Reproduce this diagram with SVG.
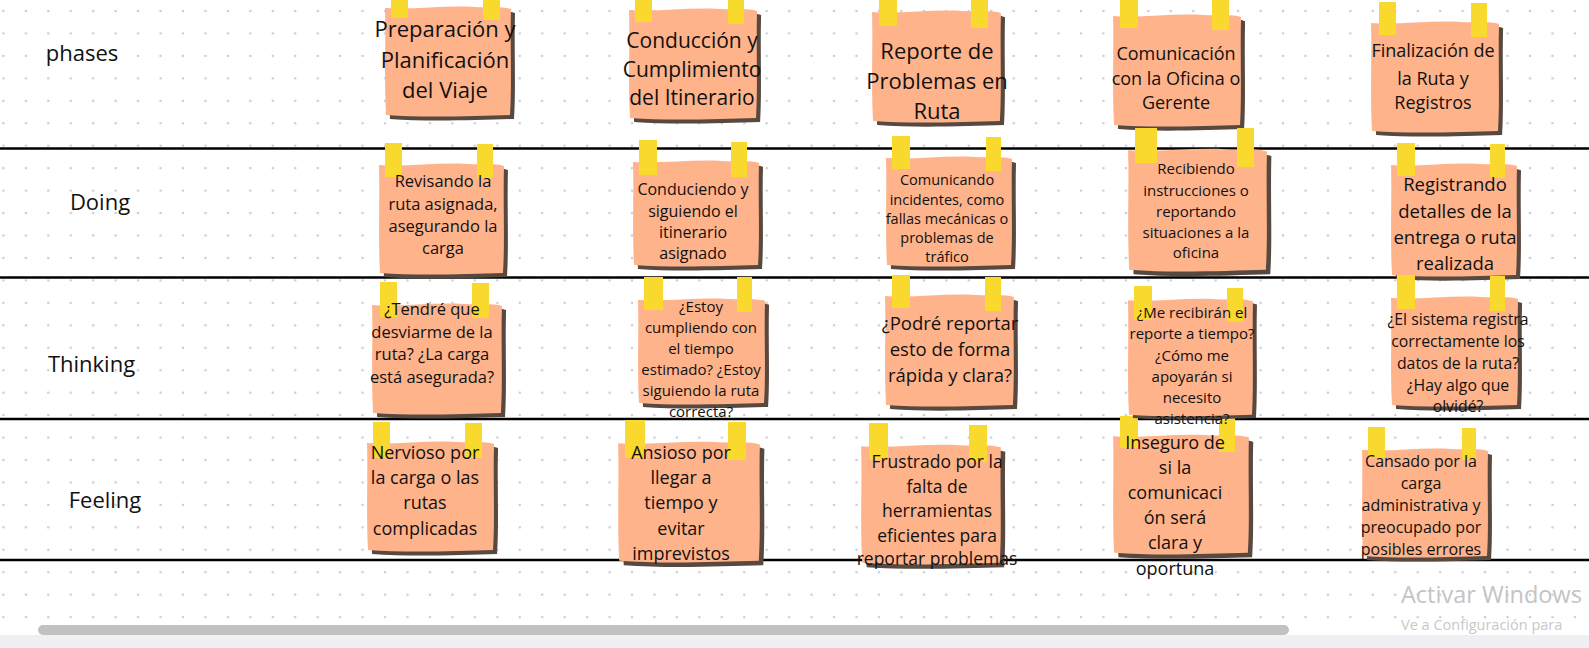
<svg xmlns="http://www.w3.org/2000/svg" width="1589" height="648" viewBox="0 0 1589 648">
<defs>
<pattern id="dots" x="3.4" y="11" width="22.45" height="22.45" patternUnits="userSpaceOnUse">
<circle cx="0" cy="0" r="1.3" fill="#c9ccd5"/>
<circle cx="22.45" cy="0" r="1.3" fill="#c9ccd5"/>
<circle cx="0" cy="22.45" r="1.3" fill="#c9ccd5"/>
<circle cx="22.45" cy="22.45" r="1.3" fill="#c9ccd5"/>
</pattern>
<path id="note" d="M1,3 C30,5 60,0 90,2 C105,3 118,1 127,4 C126,40 128,80 126,110 C90,111 40,113 2,110 C0,75 2,35 1,3 Z"/>
<style>
.paper{fill:#ffb38b}
.shadow{fill:#574840}
.tape{fill:#f9d92e}
.lane{stroke:#000;stroke-width:2.6}
text{font-family:"Open Sans","Noto Sans","DejaVu Sans",sans-serif;fill:#111;text-anchor:middle}
.lbl{font-size:22px}
</style>
</defs>
<rect x="0" y="0" width="1589" height="648" fill="#ffffff"/>
<rect x="0" y="0" width="1589" height="635" fill="url(#dots)"/>

<g id="lanes">
<line class="lane" x1="0" y1="148.5" x2="1589" y2="148.5"/>
<line class="lane" x1="0" y1="277.5" x2="1589" y2="277.5"/>
<line class="lane" x1="0" y1="419" x2="1589" y2="419"/>
<line class="lane" x1="0" y1="560" x2="1589" y2="560"/>
</g>

<g id="labels">
<text class="lbl" x="82" y="61">phases</text>
<text class="lbl" x="100" y="210">Doing</text>
<text class="lbl" x="91.5" y="372">Thinking</text>
<text class="lbl" x="105" y="508">Feeling</text>
</g>

<g id="connectors"></g>

<!-- Row: phases -->
<g id="n1">
<g transform="translate(384,5) scale(1,1)"><use href="#note" class="shadow" transform="translate(4,4)"/><use href="#note" class="paper"/></g>
<rect class="tape" x="391" y="-15" width="17" height="33"/><rect class="tape" x="483" y="-13" width="17" height="33"/>
<text style="font-size:22px"><tspan x="445" y="37">Preparación y</tspan><tspan x="445" y="68">Planificación</tspan><tspan x="445" y="98">del Viaje</tspan></text>
</g>
<g id="n2">
<g transform="translate(628,7) scale(1.016,1.009)"><use href="#note" class="shadow" transform="translate(4,4)"/><use href="#note" class="paper"/></g>
<rect class="tape" x="635" y="-12" width="17" height="34"/><rect class="tape" x="728" y="-10" width="16" height="34"/>
<text style="font-size:21px"><tspan x="692" y="48">Conducción y</tspan><tspan x="692" y="77">Cumplimiento</tspan><tspan x="692" y="105">del Itinerario</tspan></text>
</g>
<g id="n3">
<g transform="translate(871,9) scale(1.023,1.018)"><use href="#note" class="shadow" transform="translate(4,4)"/><use href="#note" class="paper"/></g>
<rect class="tape" x="879" y="-8" width="18" height="34"/><rect class="tape" x="971" y="-6" width="17" height="34"/>
<text style="font-size:22px"><tspan x="937" y="59">Reporte de</tspan><tspan x="937" y="89">Problemas en</tspan><tspan x="937" y="119">Ruta</tspan></text>
</g>
<g id="n4">
<g transform="translate(1112,13) scale(1.016,1.018)"><use href="#note" class="shadow" transform="translate(4,4)"/><use href="#note" class="paper"/></g>
<rect class="tape" x="1120" y="-4" width="18" height="32"/><rect class="tape" x="1212" y="-2" width="17" height="32"/>
<text style="font-size:18px"><tspan x="1176" y="60">Comunicación</tspan><tspan x="1176" y="85">con la Oficina o</tspan><tspan x="1176" y="109">Gerente</tspan></text>
</g>
<g id="n5">
<g transform="translate(1370,20) scale(1.016,1.009)"><use href="#note" class="shadow" transform="translate(4,4)"/><use href="#note" class="paper"/></g>
<rect class="tape" x="1379" y="2" width="17" height="33"/><rect class="tape" x="1471" y="3" width="16" height="34"/>
<text style="font-size:18px"><tspan x="1433" y="57">Finalización de</tspan><tspan x="1433" y="85">la Ruta y</tspan><tspan x="1433" y="109">Registros</tspan></text>
</g>

<!-- Row: Doing -->
<g id="n6">
<g transform="translate(378,162) scale(0.992,1.009)"><use href="#note" class="shadow" transform="translate(4,4)"/><use href="#note" class="paper"/></g>
<rect class="tape" x="385" y="143" width="17" height="34"/><rect class="tape" x="477" y="144" width="16" height="34"/>
<text style="font-size:16.5px"><tspan x="443" y="187">Revisando la</tspan><tspan x="443" y="210">ruta asignada,</tspan><tspan x="443" y="232">asegurando la</tspan><tspan x="443" y="254">carga</tspan></text>
</g>
<g id="n7">
<g transform="translate(632,159) scale(1,0.964)"><use href="#note" class="shadow" transform="translate(4,4)"/><use href="#note" class="paper"/></g>
<rect class="tape" x="639" y="140" width="18" height="35"/><rect class="tape" x="731" y="142" width="16" height="35"/>
<text style="font-size:16px"><tspan x="693" y="195">Conduciendo y</tspan><tspan x="693" y="217">siguiendo el</tspan><tspan x="693" y="238">itinerario</tspan><tspan x="693" y="259">asignado</tspan></text>
</g>
<g id="n8">
<g transform="translate(885,155) scale(1,1)"><use href="#note" class="shadow" transform="translate(4,4)"/><use href="#note" class="paper"/></g>
<rect class="tape" x="892" y="136" width="18" height="33"/><rect class="tape" x="986" y="137" width="15" height="34"/>
<text style="font-size:14.5px"><tspan x="947" y="185">Comunicando</tspan><tspan x="947" y="205">incidentes, como</tspan><tspan x="947" y="224">fallas mecánicas o</tspan><tspan x="947" y="243">problemas de</tspan><tspan x="947" y="262">tráfico</tspan></text>
</g>
<g id="n9">
<g transform="translate(1127,147) scale(1.102,1.116)"><use href="#note" class="shadow" transform="translate(4,4)"/><use href="#note" class="paper"/></g>
<rect class="tape" x="1135" y="128" width="22" height="35"/><rect class="tape" x="1237" y="128" width="17" height="39"/>
<text style="font-size:15px"><tspan x="1196" y="174">Recibiendo</tspan><tspan x="1196" y="196">instrucciones o</tspan><tspan x="1196" y="217">reportando</tspan><tspan x="1196" y="238">situaciones a la</tspan><tspan x="1196" y="258">oficina</tspan></text>
</g>
<g id="n10">
<g transform="translate(1390,162) scale(1,1.027)"><use href="#note" class="shadow" transform="translate(4,4)"/><use href="#note" class="paper"/></g>
<rect class="tape" x="1397" y="143" width="18" height="33"/><rect class="tape" x="1490" y="144" width="15" height="34"/>
<text style="font-size:18.5px"><tspan x="1455" y="191">Registrando</tspan><tspan x="1455" y="218">detalles de la</tspan><tspan x="1455" y="244">entrega o ruta</tspan><tspan x="1455" y="270">realizada</tspan></text>
</g>

<!-- Row: Thinking -->
<g id="n11">
<g transform="translate(371,302) scale(1.031,1.009)"><use href="#note" class="shadow" transform="translate(4,4)"/><use href="#note" class="paper"/></g>
<rect class="tape" x="380" y="282" width="17" height="35"/><rect class="tape" x="472" y="283" width="17" height="35"/>
<text style="font-size:16.5px"><tspan x="432" y="315">¿Tendré que</tspan><tspan x="432" y="337.5">desviarme de la</tspan><tspan x="432" y="360">ruta? ¿La carga</tspan><tspan x="432" y="382.5">está asegurada?</tspan></text>
</g>
<g id="n12">
<g transform="translate(637,297) scale(1.008,0.964)"><use href="#note" class="shadow" transform="translate(4,4)"/><use href="#note" class="paper"/></g>
<rect class="tape" x="644" y="277" width="19" height="33"/><rect class="tape" x="737" y="277" width="15" height="35"/>
<text style="font-size:15px"><tspan x="701" y="312">¿Estoy</tspan><tspan x="701" y="333">cumpliendo con</tspan><tspan x="701" y="354">el tiempo</tspan><tspan x="701" y="375">estimado? ¿Estoy</tspan><tspan x="701" y="396">siguiendo la ruta</tspan><tspan x="701" y="417">correcta?</tspan></text>
</g>
<g id="n13">
<g transform="translate(884,293) scale(1.023,1.018)"><use href="#note" class="shadow" transform="translate(4,4)"/><use href="#note" class="paper"/></g>
<rect class="tape" x="892" y="275" width="18" height="33"/><rect class="tape" x="985" y="277" width="16" height="34"/>
<text style="font-size:18.5px"><tspan x="950" y="330">¿Podré reportar</tspan><tspan x="950" y="356">esto de forma</tspan><tspan x="950" y="382">rápida y clara?</tspan></text>
</g>
<g id="n15">
<g transform="translate(1390,295) scale(1.008,1)"><use href="#note" class="shadow" transform="translate(4,4)"/><use href="#note" class="paper"/></g>
<rect class="tape" x="1397" y="275" width="18" height="34"/><rect class="tape" x="1490" y="276" width="15" height="35"/>
<text style="font-size:15.8px"><tspan x="1458" y="325">¿El sistema registra</tspan><tspan x="1458" y="347">correctamente los</tspan><tspan x="1458" y="369">datos de la ruta?</tspan><tspan x="1458" y="391">¿Hay algo que</tspan><tspan x="1458" y="412">olvidé?</tspan></text>
</g>

<!-- Row: Feeling -->
<g id="n16">
<g transform="translate(366,440) scale(1.008,1)"><use href="#note" class="shadow" transform="translate(4,4)"/><use href="#note" class="paper"/></g>
<rect class="tape" x="373" y="422" width="17" height="36"/><rect class="tape" x="465" y="423" width="17" height="35"/>
<text style="font-size:18px"><tspan x="425" y="459">Nervioso por</tspan><tspan x="425" y="484">la carga o las</tspan><tspan x="425" y="509">rutas</tspan><tspan x="425" y="535">complicadas</tspan></text>
</g>
<g id="n17">
<g transform="translate(617,440) scale(1.125,1.098)"><use href="#note" class="shadow" transform="translate(4,4)"/><use href="#note" class="paper"/></g>
<rect class="tape" x="625" y="420" width="20" height="38"/><rect class="tape" x="728" y="422" width="18" height="38"/>
<text style="font-size:18px"><tspan x="681" y="459">Ansioso por</tspan><tspan x="681" y="484">llegar a</tspan><tspan x="681" y="509">tiempo y</tspan><tspan x="681" y="535">evitar</tspan><tspan x="681" y="560">imprevistos</tspan></text>
</g>
<g id="n18">
<g transform="translate(860,443) scale(1.109,1.089)"><use href="#note" class="shadow" transform="translate(4,4)"/><use href="#note" class="paper"/></g>
<rect class="tape" x="869" y="423" width="19" height="37"/><rect class="tape" x="969" y="425" width="18" height="37"/>
<text style="font-size:17.5px"><tspan x="937" y="468">Frustrado por la</tspan><tspan x="937" y="492.5">falta de</tspan><tspan x="937" y="517">herramientas</tspan><tspan x="937" y="541.5">eficientes para</tspan><tspan x="937" y="565">reportar problemas</tspan></text>
</g>
<g id="n19">
<g transform="translate(1112,433) scale(1.078,1.089)"><use href="#note" class="shadow" transform="translate(4,4)"/><use href="#note" class="paper"/></g>
<rect class="tape" x="1120" y="416" width="18" height="32"/><rect class="tape" x="1219" y="418" width="16" height="34"/>
<text style="font-size:18px"><tspan x="1175" y="449">Inseguro de</tspan><tspan x="1175" y="474">si la</tspan><tspan x="1175" y="499">comunicaci</tspan><tspan x="1175" y="524">ón será</tspan><tspan x="1175" y="549">clara y</tspan><tspan x="1175" y="575">oportuna</tspan></text>
</g>
<g id="n20">
<g transform="translate(1361,447) scale(1,0.991)"><use href="#note" class="shadow" transform="translate(4,4)"/><use href="#note" class="paper"/></g>
<rect class="tape" x="1368" y="427" width="17" height="31"/><rect class="tape" x="1462" y="428" width="14" height="32"/>
<text style="font-size:16px"><tspan x="1421" y="467">Cansado por la</tspan><tspan x="1421" y="489">carga</tspan><tspan x="1421" y="511">administrativa y</tspan><tspan x="1421" y="533">preocupado por</tspan><tspan x="1421" y="555">posibles errores</tspan></text>
</g>

<!-- n14 drawn last so its overflowing text stays above the tape below it -->
<g id="n14">
<g transform="translate(1127,297) scale(0.992,1.071)"><use href="#note" class="shadow" transform="translate(4,3)"/><use href="#note" class="paper"/></g>
<rect class="tape" x="1134" y="286" width="18" height="34"/><rect class="tape" x="1227" y="288" width="16" height="34"/>
<text style="font-size:15px"><tspan x="1192" y="318">¿Me recibirán el</tspan><tspan x="1192" y="339">reporte a tiempo?</tspan><tspan x="1192" y="361">¿Cómo me</tspan><tspan x="1192" y="382">apoyarán si</tspan><tspan x="1192" y="403">necesito</tspan><tspan x="1192" y="424">asistencia?</tspan></text>
</g>

<g id="window-chrome">
<rect x="0" y="635" width="1589" height="13" fill="#f0f0f4"/>
<rect x="38" y="625" width="1251" height="10" rx="5" fill="#c1c1c1"/>
<text x="1401" y="603" style="font-size:23.5px;fill:#c4c4c4;text-anchor:start">Activar Windows</text>
<text x="1401" y="630" style="font-size:14.5px;fill:#c8c8c8;text-anchor:start">Ve a Configuración para</text>
</g>
</svg>
